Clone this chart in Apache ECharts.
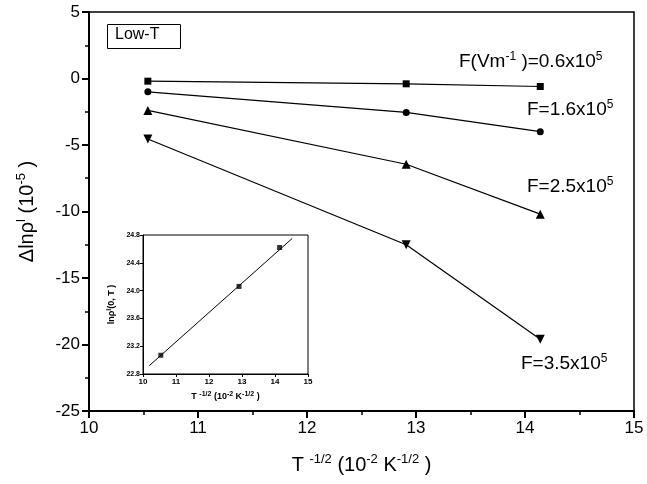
<!DOCTYPE html>
<html>
<head>
<meta charset="utf-8">
<script src="https://cdn.jsdelivr.net/npm/echarts@6/dist/echarts.min.js"></script>
<style>
  html, body { margin: 0; padding: 0; background: #fff; }
  #main { width: 647px; height: 484px; }
</style>
</head>
<body>
<div id="main"></div>
<script>
  // T^-1/2 (10^-2 K^-1/2)
  var xValues = [10.54, 12.91, 14.14];
  // Δlnρ (10^-5) for each field
  var f06 = [-0.2, -0.4, -0.6];
  var f16 = [-1.0, -2.55, -4.0];
  var f25 = [-2.4, -6.45, -10.2];
  var f35 = [-4.55, -12.5, -19.6];
  // inset: lnρ(0,T)
  var insetY = [23.07, 24.06, 24.62];
  var insetFitX = [10.19, 14.52];
  var insetFitY = [22.92, 24.75];

  function pairs(xs, ys) {
    var out = [];
    xs.forEach(function (x, i) { out.push([x, ys[i]]); });
    return out;
  }

  var font = 'Liberation Sans, Arial, sans-serif';
  var big = { fontSize: 20, fontFamily: font, color: '#000', lineHeight: 24 };
  var sup = { fontSize: 13, fontFamily: font, color: '#000', verticalAlign: 'top', lineHeight: 14 };
  var ann = { fontSize: 19, fontFamily: font, color: '#000', lineHeight: 22 };
  var annSup = { fontSize: 12, fontFamily: font, color: '#000', verticalAlign: 'top', lineHeight: 12 };
  var sm = { fontSize: 9, fontFamily: font, fontWeight: 'bold', color: '#000', lineHeight: 12 };
  var smSup = { fontSize: 7, fontFamily: font, fontWeight: 'bold', color: '#000', verticalAlign: 'top', lineHeight: 7 };

  var myChart = echarts.init(document.getElementById('main'));

  function mainSeries(data, symbol, size) {
    return {
      type: 'line',
      xAxisIndex: 0,
      yAxisIndex: 0,
      data: data,
      symbol: symbol,
      symbolSize: size,
      showAllSymbol: true,
      lineStyle: { color: '#000', width: 1.2 },
      itemStyle: { color: '#000' },
      animation: false
    };
  }

  var option = {
    animation: false,
    grid: [
      { left: 89, right: 13, top: 12, bottom: 73, show: true, borderColor: '#000', borderWidth: 1.5 },
      { left: 143, right: 339, top: 235, bottom: 110, show: true, borderColor: '#000', borderWidth: 1 }
    ],
    xAxis: [
      {
        gridIndex: 0, type: 'value', min: 10, max: 15, interval: 1,
        name: '{a|T }{s|-1/2}{a| (10}{s|-2}{a| K}{s|-1/2}{a| )}',
        nameLocation: 'middle', nameGap: 42,
        nameTextStyle: { rich: { a: big, s: sup } },
        axisLine: { onZero: false, lineStyle: { color: '#000', width: 2 } },
        axisTick: { length: 7, lineStyle: { color: '#000', width: 2 } },
        minorTick: { show: true, splitNumber: 2, length: 4, lineStyle: { color: '#000', width: 1.5 } },
        axisLabel: { fontSize: 17, fontFamily: font, color: '#000', margin: 9 },
        splitLine: { show: false }
      },
      {
        gridIndex: 1, type: 'value', min: 10, max: 15, interval: 1,
        name: '{a|T }{s|-1/2}{a| (10}{s|-2}{a| K}{s|-1/2}{a| )}',
        nameLocation: 'middle', nameGap: 17,
        nameTextStyle: { rich: { a: sm, s: smSup } },
        axisLine: { onZero: false, lineStyle: { color: '#000', width: 1 } },
        axisTick: { length: 3, lineStyle: { color: '#000' } },
        axisLabel: { fontSize: 8, fontWeight: 'bold', fontFamily: font, color: '#000', margin: 4 },
        splitLine: { show: false }
      }
    ],
    yAxis: [
      {
        gridIndex: 0, type: 'value', min: -25, max: 5, interval: 5,
        name: '{a|Δlnρ}{s|l}{a| (10}{s|-5}{a| )}',
        nameLocation: 'middle', nameGap: 50,
        nameTextStyle: { rich: { a: big, s: sup } },
        axisLine: { onZero: false, lineStyle: { color: '#000', width: 2 } },
        axisTick: { length: 7, lineStyle: { color: '#000', width: 2 } },
        minorTick: { show: true, splitNumber: 2, length: 4, lineStyle: { color: '#000', width: 1.5 } },
        axisLabel: { fontSize: 17, fontFamily: font, color: '#000', margin: 9 },
        splitLine: { show: false }
      },
      {
        gridIndex: 1, type: 'value', min: 22.8, max: 24.8, interval: 0.4,
        name: '{a|lnρ}{s|l}{a|(0, T )}',
        nameLocation: 'middle', nameGap: 25,
        nameTextStyle: { rich: { a: sm, s: smSup } },
        axisLine: { onZero: false, lineStyle: { color: '#000', width: 1 } },
        axisTick: { length: 3, lineStyle: { color: '#000' } },
        axisLabel: {
          fontSize: 7, fontWeight: 'bold', fontFamily: font, color: '#000', margin: 3,
          formatter: function (v) { return v.toFixed(1); }
        },
        splitLine: { show: false }
      }
    ],
    series: [
      mainSeries(pairs(xValues, f06), 'rect', 7),
      mainSeries(pairs(xValues, f16), 'circle', 7),
      mainSeries(pairs(xValues, f25), 'triangle', 9),
      mainSeries(pairs(xValues, f35), 'path://M0,0 L10,0 L5,9 Z', 9),
      {
        type: 'line', xAxisIndex: 1, yAxisIndex: 1,
        data: pairs(insetFitX, insetFitY),
        symbol: 'none',
        lineStyle: { color: '#000', width: 1 }
      },
      {
        type: 'scatter', xAxisIndex: 1, yAxisIndex: 1,
        data: pairs(xValues, insetY),
        symbol: 'rect', symbolSize: 5,
        itemStyle: { color: '#000' }
      }
    ],
    graphic: [
      {
        type: 'rect', left: 107, top: 24,
        shape: { width: 73, height: 24 },
        style: { fill: '#fff', stroke: '#000', lineWidth: 1 }
      },
      {
        type: 'text', left: 115, top: 27,
        style: { text: 'Low-T', fontSize: 16, fontFamily: font, fill: '#000' }
      },
      {
        type: 'text', left: 459, top: 51,
        style: { text: '{a|F(Vm}{s|-1}{a| )=0.6x10}{s|5}', rich: { a: ann, s: annSup } }
      },
      {
        type: 'text', left: 527, top: 99,
        style: { text: '{a|F=1.6x10}{s|5}', rich: { a: ann, s: annSup } }
      },
      {
        type: 'text', left: 527, top: 176,
        style: { text: '{a|F=2.5x10}{s|5}', rich: { a: ann, s: annSup } }
      },
      {
        type: 'text', left: 521, top: 353,
        style: { text: '{a|F=3.5x10}{s|5}', rich: { a: ann, s: annSup } }
      }
    ]
  };

  myChart.setOption(option);
</script>
</body>
</html>
